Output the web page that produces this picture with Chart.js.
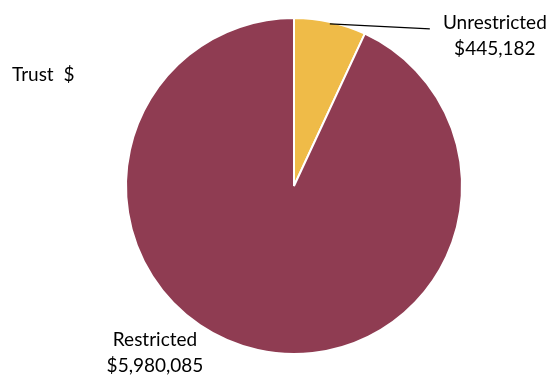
<!DOCTYPE html>
<html>
<head>
<meta charset="utf-8">
<script src="https://cdn.jsdelivr.net/npm/chart.js@4"></script>
<style>
  html, body { margin: 0; padding: 0; background: #fff; }
  #wrap { width: 554px; height: 378px; position: relative; }
</style>
</head>
<body>
<div id="wrap"><canvas id="trustPie"></canvas></div>
<script>
// Trust funds split
const categories = ['Unrestricted', 'Restricted'];
const amounts = [445182, 5980085];
const sliceColors = ['#EFBB48', '#8F3C52'];
const chartTitle = 'Trust  $';

const labelFont = '19px Lato, "Open Sans", sans-serif';

function money(v) {
  return '$' + v.toLocaleString('en-US');
}

// draws the title and the outside labels
const outsideLabels = {
  id: 'outsideLabels',
  afterDraw(chart) {
    const ctx = chart.ctx;
    const arcs = chart.getDatasetMeta(0).data;
    ctx.save();
    ctx.font = labelFont;
    ctx.fillStyle = '#000';
    ctx.textBaseline = 'middle';

    ctx.textAlign = 'left';
    ctx.fillText(chartTitle, 12, 75);

    // Unrestricted: leader line from the slice edge
    const a = arcs[0];
    const mid = (a.startAngle + a.endAngle) / 2;
    const x0 = a.x + Math.cos(mid) * (a.outerRadius - 2);
    const y0 = a.y + Math.sin(mid) * (a.outerRadius - 2);
    const x1 = x0 + 100, y1 = y0 + 5;
    ctx.strokeStyle = '#000';
    ctx.lineWidth = 1.2;
    ctx.beginPath();
    ctx.moveTo(x0, y0);
    ctx.lineTo(x1, y1);
    ctx.stroke();
    ctx.textAlign = 'center';
    ctx.fillText(categories[0], x1 + 65, y1 - 6);
    ctx.fillText(money(amounts[0]), x1 + 65, y1 + 20);

    // Restricted: label below-left of the slice
    const b = arcs[1];
    ctx.fillText(categories[1], b.x - 139, b.y + 154);
    ctx.fillText(money(amounts[1]), b.x - 139, b.y + 180);
    ctx.restore();
  }
};

function generateTrustPie() {
  const ctx = document.getElementById('trustPie').getContext('2d');
  new Chart(ctx, {
    type: 'pie',
    data: {
      labels: categories,
      datasets: [{
        data: amounts,
        backgroundColor: sliceColors,
        borderColor: '#ffffff',
        borderWidth: 2
      }]
    },
    options: {
      responsive: true,
      maintainAspectRatio: false,
      animation: false,
      layout: { padding: { left: 125, right: 91, top: 17, bottom: 23 } },
      plugins: {
        legend: { display: false },
        tooltip: { enabled: false }
      }
    },
    plugins: [outsideLabels]
  });
}

generateTrustPie();
</script>
</body>
</html>
